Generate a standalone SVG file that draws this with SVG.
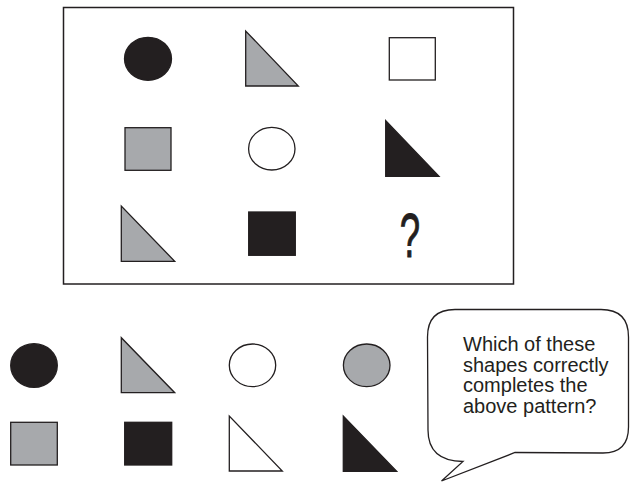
<svg xmlns="http://www.w3.org/2000/svg" width="630" height="482" viewBox="0 0 630 482">
<style>
.s{stroke:#231f20;stroke-width:1.3;stroke-linejoin:miter}
.k{fill:#231f20}
.g{fill:#a7a9ac}
.w{fill:#ffffff}
.t{font-family:"Liberation Sans",Arial,sans-serif;font-size:20px;fill:#231f20}
</style>
<rect width="630" height="482" fill="#ffffff"/>
<g id="frame"><rect x="63.5" y="7.5" width="450" height="276.5" fill="none" stroke="#231f20" stroke-width="1.5"/></g>
<g id="grid">
<g id="r1c1"><ellipse class="s k" cx="148" cy="58.8" rx="23.5" ry="21.5"/></g>
<g id="r1c2"><polygon class="s g" points="245.7,31 245.7,86 298.3,86"/></g>
<g id="r1c3"><rect class="s w" x="389.3" y="37.7" width="46" height="42.3"/></g>
<g id="r2c1"><rect class="s g" x="125" y="127.7" width="46" height="42.6"/></g>
<g id="r2c2"><ellipse class="s w" cx="271.8" cy="148.7" rx="23.2" ry="21.3"/></g>
<g id="r2c3"><polygon class="s k" points="385.7,120.7 385.7,176.3 439,176.3"/></g>
<g id="r3c1"><polygon class="s g" points="121.3,206 121.3,261.3 174.7,261.3"/></g>
<g id="r3c2"><rect class="s k" x="248.7" y="212" width="46.6" height="43.3"/></g>
<g id="r3c3"><text transform="translate(410,256.5) scale(0.58,1)" text-anchor="middle" font-family="Liberation Sans,Arial,sans-serif" font-size="63" fill="#231f20" stroke="#231f20" stroke-width="1">?</text></g>
</g>
<g id="options">
<g id="o1"><ellipse class="s k" cx="34" cy="365.5" rx="23.3" ry="21.8"/></g>
<g id="o2"><polygon class="s g" points="121.3,337.7 121.3,392.7 174.7,392.7"/></g>
<g id="o3"><ellipse class="s w" cx="252.5" cy="365.3" rx="23.2" ry="21.3"/></g>
<g id="o4"><ellipse class="s g" cx="366.7" cy="365.3" rx="23.3" ry="21.3"/></g>
<g id="o5"><rect class="s g" x="10.7" y="422.3" width="46.6" height="42.7"/></g>
<g id="o6"><rect class="s k" x="124.7" y="422.3" width="47" height="42.7"/></g>
<g id="o7"><polygon class="s w" points="229.3,416 229.3,471 282.3,471"/></g>
<g id="o8"><polygon class="s k" points="343.3,416 343.3,471.3 396.7,471.3"/></g>
</g>
<g id="bubble">
<path d="M427.5,337 Q427.5,309.5 455,309.5 L601,309.5 Q628.5,309.5 628.5,337 L628.5,427 Q628.5,453 603,453 L515,452.5 L441.5,481 L463,461.5 Q428,461 428,430 Z" fill="#ffffff" stroke="#231f20" stroke-width="1.3" stroke-linejoin="miter"/>
<text class="t" x="463" y="351">Which of these</text>
<text class="t" x="463" y="371.7">shapes correctly</text>
<text class="t" x="463" y="392.4">completes the</text>
<text class="t" x="463" y="413">above pattern?</text>
</g>
</svg>
